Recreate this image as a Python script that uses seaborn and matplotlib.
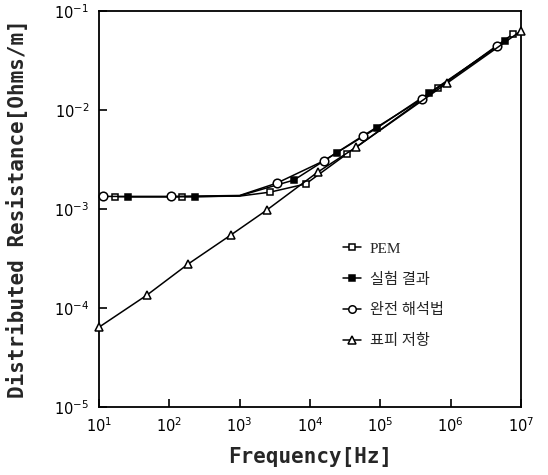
import numpy as np
import pandas as pd
import matplotlib
matplotlib.use("Agg")
import matplotlib.pyplot as plt
from matplotlib.lines import Line2D
from matplotlib.ticker import NullLocator, LogFormatterMathtext
import seaborn as sns

# ---- data ----
labels = ["PEM", "실험 결과", "완전 해석법", "표피 저항"]

# PEM (open squares); the 1000 Hz point is a line knot (no marker)
pem_f = [17, 150, 1000, 2700, 8700, 34000, 6.6e5, 7.8e6]
pem_r = [1.33e-3, 1.33e-3, 1.35e-3, 1.48e-3, 1.79e-3, 3.63e-3, 0.0166, 0.059]
pem_mark = [0, 1, 3, 4, 5, 6, 7]

# experiment (filled squares)
exp_f = [26, 233, 1000, 5900, 24000, 90000, 4.9e5, 6.0e6]
exp_r = [1.33e-3, 1.33e-3, 1.36e-3, 1.96e-3, 3.7e-3, 6.6e-3, 0.0148, 0.050]
exp_mark = [0, 1, 3, 4, 5, 6, 7]

# full analytical solution (open circles)
ana_f = [11.4, 106, 1000, 3400, 15600, 57000, 3.9e5, 4.6e6]
ana_r = [1.34e-3, 1.34e-3, 1.37e-3, 1.83e-3, 3.06e-3, 5.5e-3, 0.0129, 0.044]
ana_mark = [0, 1, 3, 4, 5, 6, 7]

# surface resistance (open triangles)
skin_f = [10, 48, 185, 760, 2450, 13000, 45000, 8.9e5, 1.0e7]
skin_r = [6.4e-5, 1.35e-4, 2.78e-4, 5.5e-4, 9.8e-4, 2.37e-3, 4.2e-3, 0.0187, 0.063]

xticks = [1e1, 1e2, 1e3, 1e4, 1e5, 1e6, 1e7]
yticks = [1e-5, 1e-4, 1e-3, 1e-2, 1e-1]

# ---- style ----
sns.set_style("ticks")
plt.rcParams["font.family"] = ["DejaVu Sans", "Noto Sans CJK KR"]
plt.rcParams["mathtext.fontset"] = "dejavusans"

fig = plt.figure(figsize=(5.48, 4.75), dpi=100)
ax = fig.add_axes([99 / 548, 1 - 407 / 475, (521 - 99) / 548, (407 - 11) / 475])

lw = 1.1
series = [
    (pem_f, pem_r, pem_mark, "s", "white", 4.8),
    (exp_f, exp_r, exp_mark, "s", "black", 4.8),
    (ana_f, ana_r, ana_mark, "o", "white", 6.2),
    (skin_f, skin_r, None, "^", "white", 6.2),
]
handles = []
for (f, r, mk, m, fc, ms), lab in zip(series, labels):
    df = pd.DataFrame({"f": f, "r": r})
    sns.lineplot(data=df, x="f", y="r", ax=ax, sort=False, estimator=None,
                 color="black", linewidth=lw, marker=m, markersize=ms,
                 markerfacecolor=fc, markeredgecolor="black", markeredgewidth=1.1,
                 markevery=mk, clip_on=False, zorder=3)
    handles.append(Line2D([], [], color="black", linewidth=lw, marker=m,
                          markersize=ms - 0.8, markerfacecolor=fc,
                          markeredgecolor="black", markeredgewidth=1.1))

ax.set_xscale("log")
ax.set_yscale("log")
ax.set_xlim(1e1, 1e7)
ax.set_ylim(1e-5, 1e-1)
ax.set_xticks(xticks)
ax.set_yticks(yticks)
ax.xaxis.set_major_formatter(LogFormatterMathtext())
ax.yaxis.set_major_formatter(LogFormatterMathtext())
ax.xaxis.set_minor_locator(NullLocator())
ax.yaxis.set_minor_locator(NullLocator())
ax.tick_params(axis="both", which="major", direction="in", length=6, width=1.2,
               labelsize=10.5, pad=7, colors="black")
for s in ax.spines.values():
    s.set_linewidth(1.3)
    s.set_color("black")
    s.set_visible(True)

ax.set_xlabel("Frequency[Hz]", fontsize=15, fontweight="bold",
              family="DejaVu Sans Mono", labelpad=8)
ax.set_ylabel("Distributed Resistance[Ohms/m]", fontsize=15, fontweight="bold",
              family="DejaVu Sans Mono", labelpad=19)

leg = fig.legend(handles, labels, loc="upper left",
                 bbox_to_anchor=(343 / 548, 1 - 242 / 475),
                 frameon=False, handlelength=1.2, handletextpad=0.55,
                 labelspacing=1.1, borderpad=0, borderaxespad=0, numpoints=1,
                 prop={"family": ["Liberation Serif", "Noto Sans CJK KR"], "size": 11})

fig.savefig("out.png", dpi=100)
